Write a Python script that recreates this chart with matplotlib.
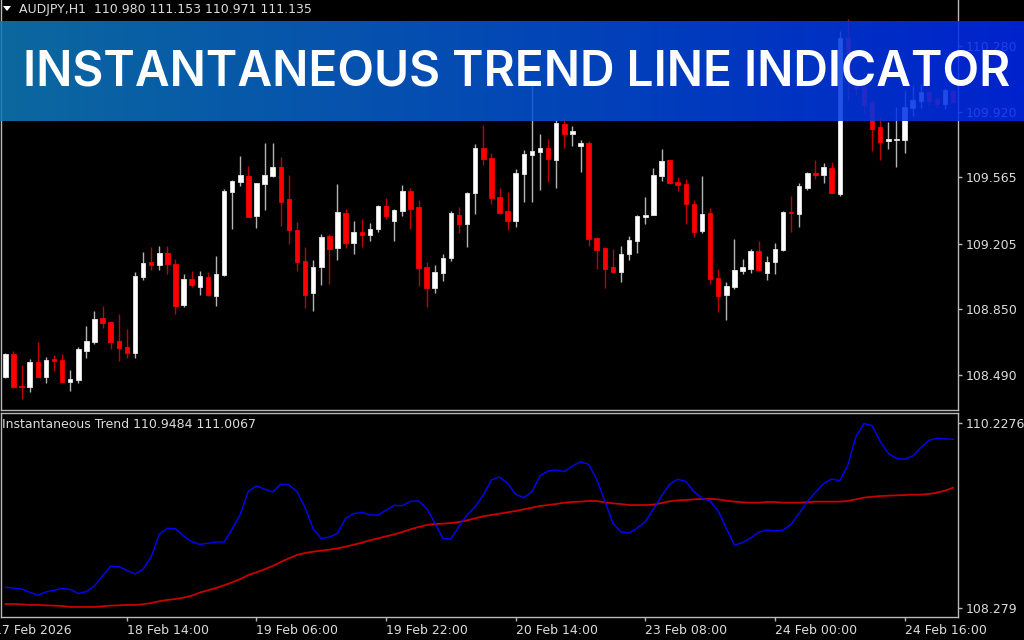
import matplotlib
matplotlib.use("Agg")
import matplotlib.pyplot as plt
import numpy as np
from matplotlib.patches import Polygon
from matplotlib.transforms import blended_transform_factory

# ---------------- data ----------------
symbol_header = "AUDJPY,H1  110.980 111.153 110.971 111.135"
indicator_header = "Instantaneous Trend 110.9484 111.0067"
banner_title = "INSTANTANEOUS TREND LINE INDICATOR"

opens = [
    108.480, 108.602, 108.430, 108.424, 108.559, 108.480, 108.575, 108.570, 108.453, 108.464,
    108.620, 108.668, 108.800, 108.778, 108.675, 108.640, 108.608, 109.021, 109.104, 109.088,
    109.153, 109.094, 108.872, 109.010, 108.967, 109.021, 108.921, 109.032, 109.484, 109.538,
    109.572, 109.356, 109.529, 109.572, 109.621, 109.446, 109.280, 109.110, 108.934, 109.077,
    109.246, 109.182, 109.373, 109.209, 109.268, 109.253, 109.286, 109.411, 109.326, 109.380,
    109.489, 109.402, 109.076, 108.961, 109.043, 109.125, 109.362, 109.313, 109.480, 109.726,
    109.672, 109.456, 109.380, 109.329, 109.583, 109.687, 109.705, 109.725, 109.661, 109.854,
    109.799, 109.734, 109.754, 109.237, 109.182, 109.076, 109.048, 109.148, 109.220, 109.351,
    109.362, 109.572, 109.659, 109.541, 109.529, 109.418, 109.275, 109.369, 109.016, 108.927,
    108.967, 109.054, 109.066, 109.163, 109.046, 109.106, 109.170, 109.377, 109.364, 109.509,
    109.587, 109.578, 109.616, 109.473, 110.323, 110.073, 110.058, 109.968, 109.837, 109.763,
    109.767, 109.767, 109.944, 109.982, 110.029, 109.991, 109.963, 110.035]

highs = [
    108.609, 108.620, 108.542, 108.575, 108.669, 108.586, 108.597, 108.602, 108.515, 108.640,
    108.756, 108.838, 108.865, 108.783, 108.822, 108.740, 109.048, 109.159, 109.186, 109.192,
    109.192, 109.119, 109.038, 109.054, 109.054, 109.048, 109.137, 109.500, 109.551, 109.681,
    109.627, 109.534, 109.754, 109.754, 109.676, 109.578, 109.322, 109.186, 109.114, 109.257,
    109.257, 109.529, 109.391, 109.326, 109.337, 109.317, 109.415, 109.453, 109.394, 109.523,
    109.507, 109.442, 109.104, 109.088, 109.148, 109.380, 109.402, 109.487, 109.745, 109.848,
    109.698, 109.505, 109.484, 109.610, 109.714, 110.068, 109.799, 109.775, 109.877, 109.888,
    109.843, 109.770, 109.764, 109.242, 109.188, 109.175, 109.192, 109.246, 109.360, 109.456,
    109.616, 109.721, 109.659, 109.567, 109.556, 109.442, 109.572, 109.397, 109.065, 108.994,
    109.230, 109.121, 109.177, 109.220, 109.137, 109.208, 109.380, 109.465, 109.533, 109.593,
    109.659, 109.643, 109.649, 110.361, 110.427, 110.095, 110.073, 109.986, 109.895, 109.865,
    109.949, 110.040, 110.068, 110.073, 110.040, 110.001, 110.050, 110.040]

lows = [
    108.473, 108.419, 108.357, 108.399, 108.479, 108.448, 108.510, 108.452, 108.404, 108.448,
    108.580, 108.658, 108.745, 108.631, 108.564, 108.580, 108.580, 109.005, 109.059, 109.059,
    109.038, 108.823, 108.861, 108.967, 108.927, 108.921, 108.867, 109.030, 109.286, 109.516,
    109.348, 109.291, 109.389, 109.569, 109.300, 109.204, 109.054, 108.856, 108.840, 108.978,
    108.983, 109.115, 109.182, 109.148, 109.188, 109.220, 109.269, 109.338, 109.220, 109.356,
    109.286, 108.975, 108.861, 108.937, 109.003, 109.110, 109.264, 109.188, 109.364, 109.632,
    109.418, 109.364, 109.280, 109.297, 109.429, 109.429, 109.496, 109.540, 109.507, 109.726,
    109.737, 109.596, 109.193, 109.066, 108.965, 109.045, 108.997, 109.115, 109.153, 109.313,
    109.359, 109.545, 109.529, 109.491, 109.313, 109.242, 109.264, 108.983, 108.834, 108.789,
    108.956, 109.039, 109.043, 109.057, 109.007, 109.039, 109.166, 109.269, 109.297, 109.496,
    109.554, 109.534, 109.478, 109.465, 109.986, 110.013, 109.914, 109.710, 109.661, 109.721,
    109.623, 109.699, 109.899, 109.944, 109.959, 109.944, 109.937, 109.968]

closes = [
    108.602, 108.424, 108.424, 108.559, 108.480, 108.571, 108.564, 108.453, 108.470, 108.631,
    108.675, 108.794, 108.773, 108.668, 108.635, 108.608, 109.028, 109.097, 109.088, 109.153,
    109.094, 108.867, 109.010, 108.978, 109.027, 108.927, 109.038, 109.489, 109.544, 109.576,
    109.351, 109.533, 109.576, 109.621, 109.433, 109.280, 109.106, 108.927, 109.077, 109.240,
    109.175, 109.375, 109.209, 109.268, 109.253, 109.284, 109.411, 109.355, 109.389, 109.489,
    109.391, 109.072, 108.961, 109.048, 109.125, 109.369, 109.313, 109.480, 109.726, 109.665,
    109.451, 109.373, 109.329, 109.589, 109.694, 109.708, 109.726, 109.665, 109.859, 109.799,
    109.819, 109.754, 109.231, 109.171, 109.065, 109.048, 109.146, 109.224, 109.356, 109.362,
    109.576, 109.654, 109.534, 109.523, 109.418, 109.269, 109.367, 109.010, 108.921, 108.974,
    109.059, 109.077, 109.163, 109.061, 109.103, 109.175, 109.377, 109.369, 109.518, 109.589,
    109.578, 109.621, 109.478, 110.322, 110.095, 110.051, 109.959, 109.827, 109.759, 109.772,
    109.772, 109.946, 109.986, 110.029, 109.982, 109.963, 110.040, 109.977]

trend_blue = [
    108.494, 108.487, 108.477, 108.442, 108.410, 108.445, 108.463, 108.484, 108.473, 108.428,
    108.449, 108.509, 108.618, 108.716, 108.713, 108.674, 108.635, 108.685, 108.818, 109.054,
    109.118, 109.114, 109.037, 108.977, 108.949, 108.959, 108.973, 108.973, 109.111, 109.266,
    109.512, 109.565, 109.533, 109.502, 109.586, 109.579, 109.505, 109.336, 109.111, 109.009,
    109.026, 109.065, 109.223, 109.273, 109.287, 109.259, 109.259, 109.308, 109.361, 109.357,
    109.403, 109.407, 109.329, 109.178, 109.012, 109.005, 109.139, 109.259, 109.347, 109.470,
    109.629, 109.660, 109.593, 109.477, 109.442, 109.505, 109.674, 109.724, 109.734, 109.717,
    109.776, 109.822, 109.794, 109.636, 109.407, 109.171, 109.079, 109.068, 109.121, 109.188,
    109.322, 109.459, 109.583, 109.636, 109.614, 109.505, 109.435, 109.407, 109.301, 109.118,
    108.942, 108.966, 109.016, 109.076, 109.100, 109.090, 109.100, 109.160, 109.276, 109.400,
    109.498, 109.590, 109.639, 109.621, 109.787, 110.086, 110.226, 110.203, 110.034, 109.910,
    109.857, 109.847, 109.882, 109.970, 110.048, 110.069, 110.065, 110.058]

trend_red = [
    108.318, 108.318, 108.315, 108.308, 108.308, 108.304, 108.301, 108.297, 108.287, 108.287,
    108.287, 108.287, 108.294, 108.301, 108.304, 108.308, 108.308, 108.315, 108.329, 108.347,
    108.361, 108.371, 108.385, 108.406, 108.438, 108.463, 108.487, 108.516, 108.547, 108.582,
    108.625, 108.653, 108.685, 108.720, 108.762, 108.801, 108.836, 108.857, 108.871, 108.882,
    108.892, 108.906, 108.924, 108.945, 108.966, 108.991, 109.012, 109.033, 109.054, 109.079,
    109.107, 109.132, 109.153, 109.164, 109.167, 109.174, 109.185, 109.202, 109.224, 109.245,
    109.259, 109.273, 109.287, 109.301, 109.319, 109.336, 109.354, 109.364, 109.375, 109.389,
    109.396, 109.400, 109.407, 109.407, 109.393, 109.382, 109.375, 109.364, 109.364, 109.364,
    109.368, 109.385, 109.403, 109.414, 109.417, 109.424, 109.428, 109.428, 109.424, 109.410,
    109.400, 109.393, 109.389, 109.389, 109.396, 109.396, 109.389, 109.389, 109.389, 109.393,
    109.400, 109.400, 109.400, 109.400, 109.407, 109.424, 109.442, 109.452, 109.459, 109.463,
    109.466, 109.470, 109.474, 109.474, 109.481, 109.495, 109.516, 109.547]

time_label_pos = [-1.45, 15, 31, 47, 63, 79, 95, 111]
time_labels = ["17 Feb 2026", "18 Feb 14:00", "19 Feb 06:00", "19 Feb 22:00",
               "20 Feb 14:00", "23 Feb 08:00", "24 Feb 00:00", "24 Feb 16:00"]
price_ticks = [110.280, 109.920, 109.565, 109.205, 108.850, 108.490]
ind_ticks = [110.2276, 108.279]
ind_tick_labels = ["110.2276", "108.279"]

# ---------------- layout ----------------
W, H = 1024, 640
fig = plt.figure(figsize=(W / 100, H / 100), dpi=100, facecolor="black")


def fx(px):
    return px / W


def fy(py):
    return 1 - py / H


TXT = "#dcdcdc"
FRAME = "#b8b8b8"
FS = 9

ax = fig.add_axes([fx(1), fy(410), fx(958) - fx(1), fy(0) - fy(410)])
ax2 = fig.add_axes([fx(1), fy(616.5), fx(958) - fx(1), fy(412.5) - fy(616.5)])

for a in (ax, ax2):
    a.set_facecolor("black")
    a.set_xlim(-0.54, 117.6)
    for s in a.spines.values():
        s.set_color(FRAME)
        s.set_linewidth(1.0)
    a.yaxis.tick_right()
    a.tick_params(axis="y", direction="out", length=3, width=1, colors=FRAME,
                  labelcolor=TXT, labelsize=FS, pad=2.5)
ax.spines["top"].set_visible(False)

# ---------------- candles ----------------
idx = np.arange(len(opens))
o = np.array(opens)
h = np.array(highs)
l = np.array(lows)
c = np.array(closes)
up = c >= o

ax.vlines(idx[up], l[up], h[up], colors="#b4b4b4", linewidth=1.0, zorder=2)
ax.vlines(idx[~up], l[~up], h[~up], colors="#c00000", linewidth=1.0, zorder=2)
body_lo = np.minimum(o, c)
body_h = np.abs(c - o)
ax.bar(idx[up], body_h[up], bottom=body_lo[up], width=0.55, color="#ffffff",
       edgecolor="#e6e6e6", linewidth=0.6, zorder=3)
ax.bar(idx[~up], body_h[~up], bottom=body_lo[~up], width=0.55, color="#ff0000",
       edgecolor="#f00000", linewidth=0.6, zorder=3)

ax.set_ylim(108.299, 110.530)
ax.set_xticks([])
ax.set_yticks(price_ticks)
ax.set_yticklabels([f"{v:.3f}" for v in price_ticks])

# ---------------- indicator ----------------
ax2.plot(idx, trend_red, color="#c80000", linewidth=1.3, zorder=2)
ax2.plot(idx, trend_blue, color="#0000ff", linewidth=1.0, zorder=3)
ax2.set_ylim(108.186, 110.342)
ax2.set_yticks(ind_ticks)
ax2.set_yticklabels(ind_tick_labels)
ax2.set_xticks(time_label_pos[1:])
ax2.set_xticklabels([])
ax2.tick_params(axis="x", direction="out", length=3, width=1, colors=FRAME)

tr = blended_transform_factory(ax2.transData, fig.transFigure)
for p, s in zip(time_label_pos, time_labels):
    ax2.text(p, fy(630), s, transform=tr, ha="left", va="center", color=TXT,
             fontsize=FS, clip_on=False)

# headers
fig.text(fx(19), fy(10), symbol_header, color=TXT, fontsize=FS, va="center", ha="left")
fig.text(fx(2), fy(425), indicator_header, color=TXT, fontsize=FS, va="center", ha="left")
tri = Polygon([(fx(3), fy(6)), (fx(11), fy(6)), (fx(7), fy(11))], closed=True,
              transform=fig.transFigure, facecolor="white", edgecolor="none")
fig.patches.append(tri)

# ---------------- banner ----------------
axb = fig.add_axes([0, fy(121), 1, 100 / H], zorder=10)
axb.set_axis_off()
axb.patch.set_visible(False)
stops = np.array([[14, 121, 184], [4, 84, 210], [0, 40, 238]]) / 255.0
xs = np.linspace(0, 1, 512)
grad = np.empty((1, 512, 3))
for k in range(3):
    grad[0, :, k] = np.interp(xs, [0, 0.5, 1], stops[:, k])
axb.imshow(grad, aspect="auto", extent=[0, 1, 0, 1], alpha=0.87, interpolation="bilinear")
axb.set_xlim(0, 1)
axb.set_ylim(0, 1)
t = axb.text(0.505, 0.36, banner_title, color="white", fontsize=40,
             fontfamily="Inter", fontweight="semibold", ha="center", va="baseline",
             transform=axb.transAxes)
fig.canvas.draw()
bb = t.get_window_extent()
t.set_fontsize(40 * 990 / bb.width)

fig.savefig("out.png", dpi=100, facecolor="black")
